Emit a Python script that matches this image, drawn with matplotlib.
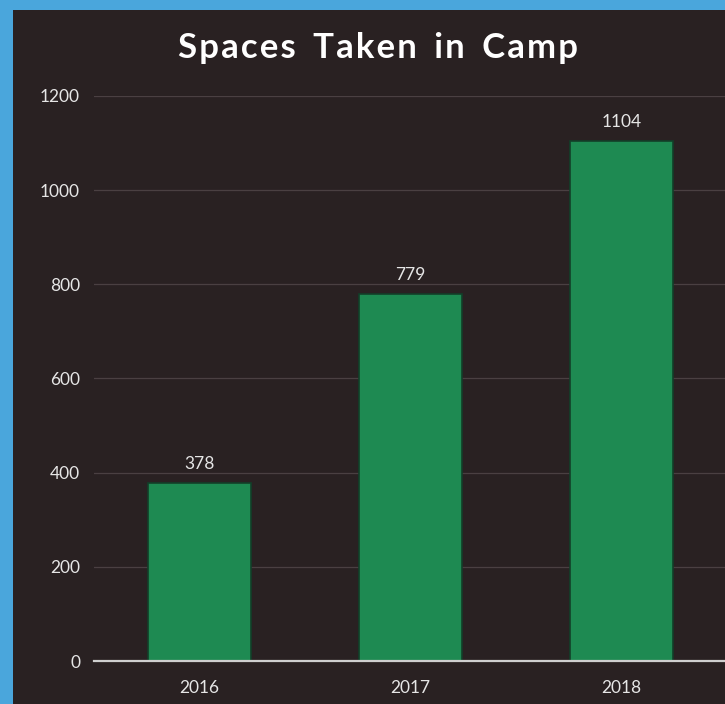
import matplotlib
matplotlib.use("Agg")
import matplotlib.pyplot as plt
from matplotlib.patches import Rectangle

years = ["2016", "2017", "2018"]
spaces = [378, 779, 1104]
yticks = [0, 200, 400, 600, 800, 1000, 1200]

W, H = 725, 704
fig = plt.figure(figsize=(W / 100, H / 100), dpi=100)
fig.patch.set_facecolor("#4aa6dc")
# dark panel
fig.add_artist(Rectangle((13 / W, 0), 1, 1 - 10 / H, transform=fig.transFigure,
                         facecolor="#292122", edgecolor="none", zorder=0))

ax = fig.add_axes([94 / W, 1 - 661 / H, (W - 94) / W + 0.003, (661 - 96) / H])
ax.set_facecolor("none")
x = list(range(len(years)))
ax.bar(x, spaces, width=0.49, color="#1e8a52", edgecolor="#123f29", linewidth=1.2, zorder=3)
for xi, v in zip(x, spaces):
    ax.annotate(str(v), (xi, v), xytext=(0, 8), textcoords="offset points",
                ha="center", va="bottom", color="#e6e6e6", fontsize=12.5, family="Lato")

ax.set_xlim(-0.5, 2.5)
ax.set_ylim(0, 1200)
ax.set_yticks(yticks)
ax.set_xticks(x)
ax.set_xticklabels(years)
ax.tick_params(axis="both", length=0, colors="#e6e6e6", labelsize=12.5)
ax.tick_params(axis="y", pad=10)
ax.tick_params(axis="x", pad=14)
for lbl in ax.get_xticklabels() + ax.get_yticklabels():
    lbl.set_family("Lato")
ax.grid(axis="y", color="#4a4042", linewidth=0.9, zorder=1)
for s in ["top", "right", "left"]:
    ax.spines[s].set_visible(False)
ax.spines["bottom"].set_color("#cfcfcf")
ax.spines["bottom"].set_linewidth(1.6)
ax.spines["bottom"].set_zorder(4)

fig.text(378 / W, 1 - 48 / H, "S p a c e s   T a k e n   i n   C a m p".replace("   ", "\u2002").replace(" ", "\u200a"),
         ha="center", va="center", color="white", fontsize=25, fontweight="bold", family="Lato")

fig.savefig("out.png", dpi=100, facecolor=fig.get_facecolor())
